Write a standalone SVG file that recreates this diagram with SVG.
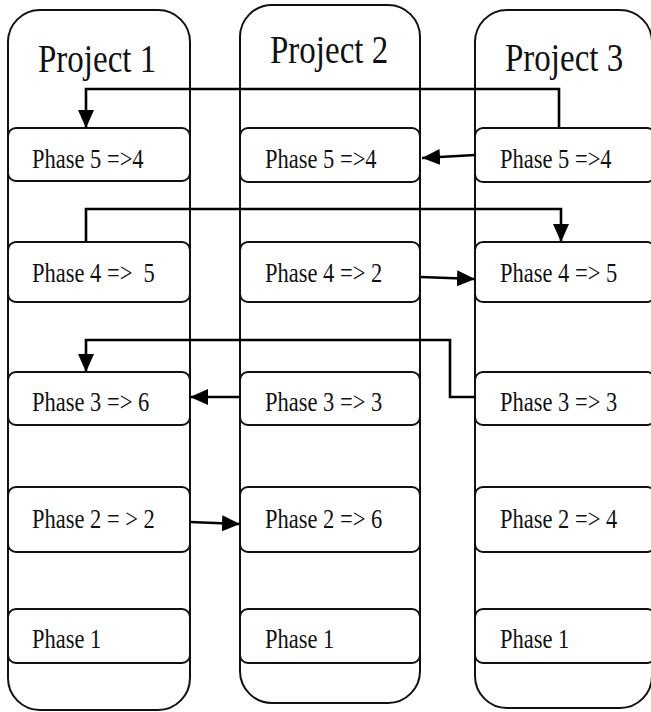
<svg xmlns="http://www.w3.org/2000/svg" width="651" height="712" viewBox="0 0 651 712">
  <defs>
    <marker id="arrow" viewBox="0 0 18 16" refX="18" refY="8" markerWidth="18" markerHeight="16" markerUnits="userSpaceOnUse" orient="auto">
      <path d="M0,0 L18,8 L0,16 Z" fill="#000"/>
    </marker>
  </defs>
  <style>
    .lane { fill: #fff; stroke: #111; stroke-width: 2; }
    .phase { fill: #fff; stroke: #111; stroke-width: 2; }
    .title { font-size: 33px; fill: #111; }
    .label { font-size: 22.5px; fill: #111; white-space: pre; }
    .conn { fill: none; stroke: #000; stroke-width: 2.6; }
  </style>
  <rect width="651" height="712" fill="#fff"/>

  <g font-family="Liberation Serif, Tinos, DejaVu Serif, serif">
  <!-- Project lanes -->
  <g id="project1">
    <rect class="lane" x="8" y="10" width="182" height="700" rx="32" ry="32"/>
    <text class="title" transform="translate(38,72) scale(1,1.22)">Project 1</text>
  </g>
  <g id="project2">
    <rect class="lane" x="240" y="5" width="180" height="698" rx="32" ry="32"/>
    <text class="title" transform="translate(270,63) scale(1,1.22)">Project 2</text>
  </g>
  <g id="project3">
    <rect class="lane" x="475" y="10" width="177" height="698" rx="32" ry="32"/>
    <text class="title" transform="translate(505,71) scale(1,1.22)">Project 3</text>
  </g>

  <!-- Project 1 phases -->
  <g id="p1-phase5"><rect class="phase" x="8" y="128" width="182" height="53" rx="8"/><text class="label" transform="translate(32,168) scale(1,1.18)">Phase 5 =&gt;4</text></g>
  <g id="p1-phase4"><rect class="phase" x="8" y="242" width="182" height="60" rx="8"/><text class="label" transform="translate(32,282) scale(1,1.18)">Phase 4 =&gt;  5</text></g>
  <g id="p1-phase3"><rect class="phase" x="8" y="372" width="182" height="53" rx="8"/><text class="label" transform="translate(32,411) scale(1,1.18)">Phase 3 =&gt; 6</text></g>
  <g id="p1-phase2"><rect class="phase" x="8" y="487" width="182" height="65" rx="8"/><text class="label" transform="translate(32,528) scale(1,1.18)">Phase 2 = &gt; 2</text></g>
  <g id="p1-phase1"><rect class="phase" x="8" y="609" width="182" height="54" rx="8"/><text class="label" transform="translate(32,648) scale(1,1.18)">Phase 1</text></g>

  <!-- Project 2 phases -->
  <g id="p2-phase5"><rect class="phase" x="240" y="128" width="180" height="54" rx="8"/><text class="label" transform="translate(265,168) scale(1,1.18)">Phase 5 =&gt;4</text></g>
  <g id="p2-phase4"><rect class="phase" x="240" y="242" width="180" height="60" rx="8"/><text class="label" transform="translate(265,282) scale(1,1.18)">Phase 4 =&gt; 2</text></g>
  <g id="p2-phase3"><rect class="phase" x="240" y="372" width="180" height="53" rx="8"/><text class="label" transform="translate(265,411) scale(1,1.18)">Phase 3 =&gt; 3</text></g>
  <g id="p2-phase2"><rect class="phase" x="240" y="487" width="180" height="65" rx="8"/><text class="label" transform="translate(265,528) scale(1,1.18)">Phase 2 =&gt; 6</text></g>
  <g id="p2-phase1"><rect class="phase" x="240" y="609" width="180" height="54" rx="8"/><text class="label" transform="translate(265,648) scale(1,1.18)">Phase 1</text></g>

  <!-- Project 3 phases -->
  <g id="p3-phase5"><rect class="phase" x="475" y="128" width="180" height="54" rx="8"/><text class="label" transform="translate(500,168) scale(1,1.18)">Phase 5 =&gt;4</text></g>
  <g id="p3-phase4"><rect class="phase" x="475" y="242" width="180" height="60" rx="8"/><text class="label" transform="translate(500,282) scale(1,1.18)">Phase 4 =&gt; 5</text></g>
  <g id="p3-phase3"><rect class="phase" x="475" y="372" width="180" height="53" rx="8"/><text class="label" transform="translate(500,411) scale(1,1.18)">Phase 3 =&gt; 3</text></g>
  <g id="p3-phase2"><rect class="phase" x="475" y="487" width="180" height="65" rx="8"/><text class="label" transform="translate(500,528) scale(1,1.18)">Phase 2 =&gt; 4</text></g>
  <g id="p3-phase1"><rect class="phase" x="475" y="609" width="180" height="54" rx="8"/><text class="label" transform="translate(500,648) scale(1,1.18)">Phase 1</text></g>
  </g>

  <!-- Connectors -->
  <g id="connectors">
    <path class="conn" d="M559,128 V89 H86 V128" marker-end="url(#arrow)"/>
    <path class="conn" d="M475,155 L422,158" marker-end="url(#arrow)"/>
    <path class="conn" d="M86,242 V209 H561 V242" marker-end="url(#arrow)"/>
    <path class="conn" d="M421,277 L475,279" marker-end="url(#arrow)"/>
    <path class="conn" d="M475,397 H450 V340 H86 V372" marker-end="url(#arrow)"/>
    <path class="conn" d="M240,397 H190" marker-end="url(#arrow)"/>
    <path class="conn" d="M190,522 L240,524" marker-end="url(#arrow)"/>
  </g>
</svg>
